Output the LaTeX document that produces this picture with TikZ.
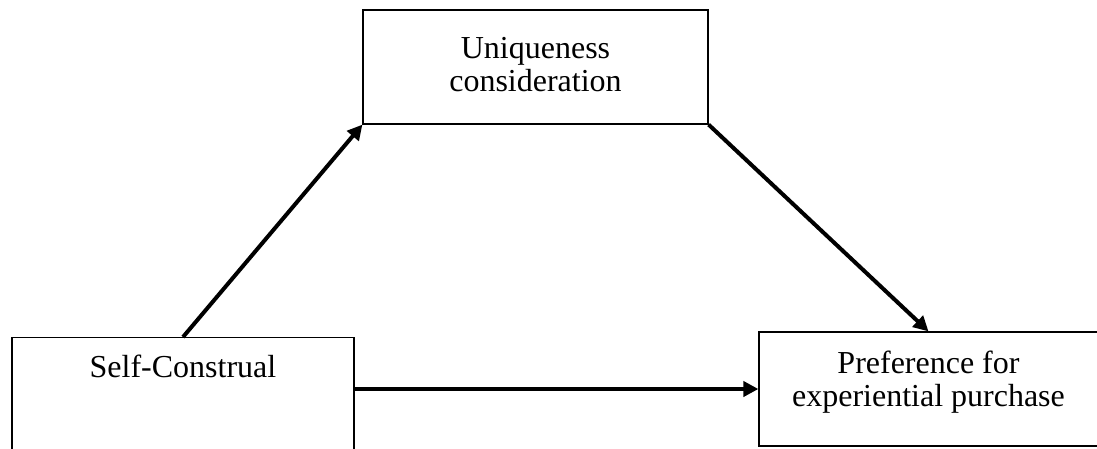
\documentclass[tikz,border=0pt]{standalone}
\usepackage{fontspec}
\setmainfont{Liberation Serif}
\usetikzlibrary{arrows.meta}

\begin{document}
\begin{tikzpicture}[x=1pt,y=-1pt,
    box/.style={draw,line width=1.2pt,inner sep=0pt,align=center,
                font=\fontsize{32}{32.5}\selectfont},
    arr/.style={line width=4pt,-{Triangle[length=15pt,width=15pt]}}]

       \useasboundingbox (0,0) rectangle (1097,448);

       \node[box, minimum width=345pt, minimum height=114pt, text height=54.5pt, text depth=6.5pt] (uc) at (535.5, 67) {Uniqueness\\consideration};
       \node[box, minimum width=342pt, anchor=north, text height=40pt, text depth=83pt] (sc) at (183, 337) {Self-Construal};
       \node[box, minimum width=339pt, minimum height=114pt, text height=54.5pt, text depth=20.5pt] (pe) at (928.5, 389) {Preference for\\experiential purchase};

       \draw[arr] (sc.north) -- (uc.south west);
       \draw[arr] (uc.south east) -- (pe.north);
       \draw[arr] (sc.east |- pe.west) -- (pe.west);
     \end{tikzpicture}
\end{document}
